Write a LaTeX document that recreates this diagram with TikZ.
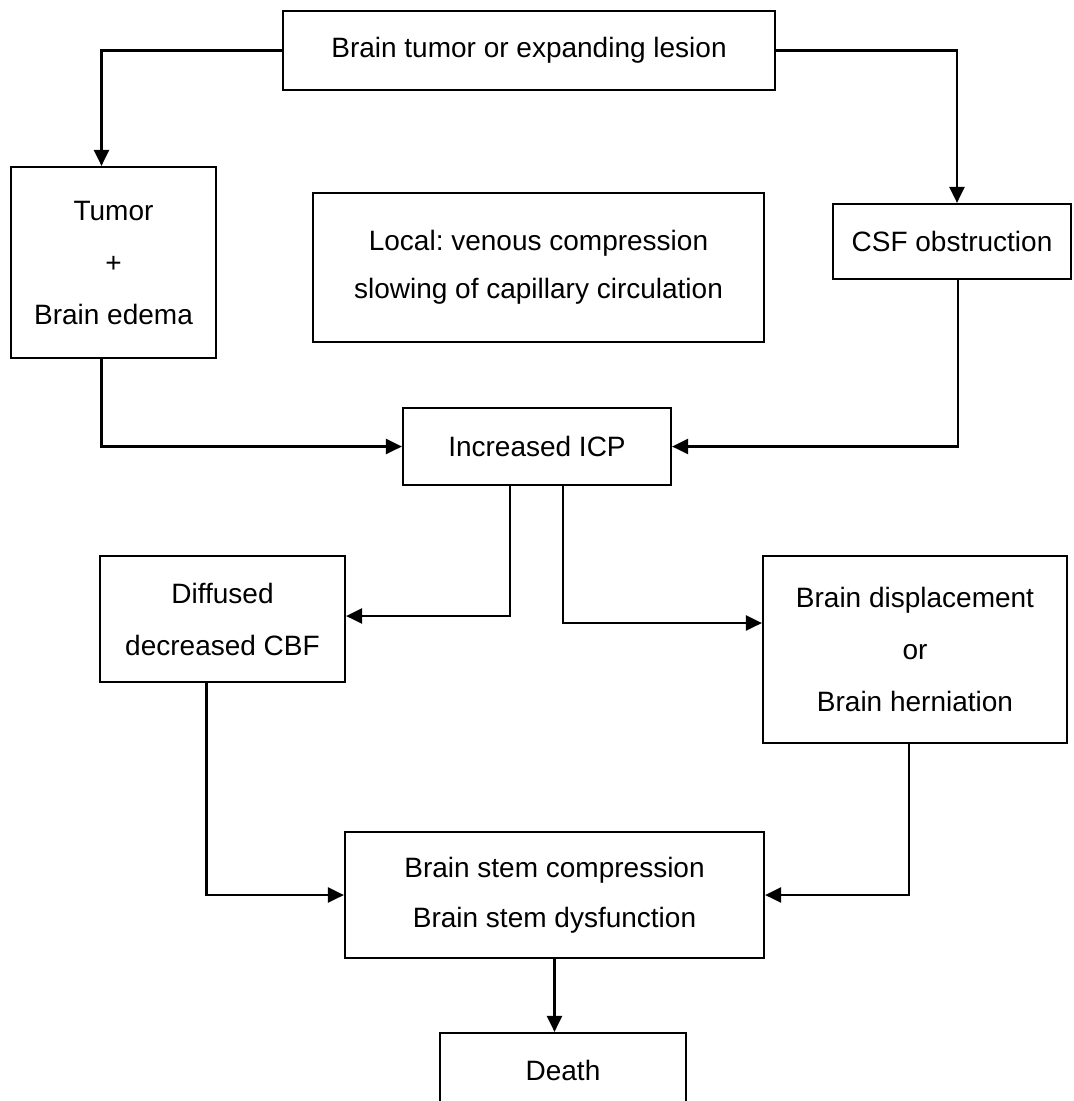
\documentclass[tikz,border=0pt]{standalone}
\usepackage{fontspec}
\setmainfont{Liberation Sans}
\usetikzlibrary{arrows.meta}
\frenchspacing

\tikzset{
    box/.style={draw, line width=2.2pt, align=center, inner sep=0pt,
        font=\fontsize{28}{52}\selectfont},
    flow/.style={-{Triangle[length=16pt,width=15pt]}, line width=2.4pt}
}

\begin{document}
\begin{tikzpicture}[x=1pt, y=-1pt]
    \useasboundingbox (0,0) rectangle (1074,1101);
    \clip (0,0) rectangle (1074,1101);

    % Boxes, placed at their centres
    \node[box, minimum width=492pt, minimum height=79pt] (lesion) at (529,50.5) {Brain tumor or expanding lesion};
    \node[box, minimum width=205pt, minimum height=191pt] (edema) at (113.5,262.5) {Tumor\\+\\Brain edema};
    \node[box, minimum width=451pt, minimum height=149pt, font=\fontsize{28}{48}\selectfont] (local) at (538.5,267.5) {Local: venous compression\\slowing of capillary circulation};
    \node[box, minimum width=238pt, minimum height=75pt] (csf) at (952,241.5) {CSF obstruction};
    \node[box, minimum width=268pt, minimum height=77pt] (icp) at (537,446.5) {Increased ICP};
    \node[box, minimum width=245pt, minimum height=126pt] (cbf) at (222.5,619) {Diffused\\decreased CBF};
    \node[box, minimum width=304pt, minimum height=187pt] (herniation) at (915,649.5) {Brain displacement\\or\\Brain herniation};
    \node[box, minimum width=419pt, minimum height=126pt, font=\fontsize{28}{50}\selectfont] (stem) at (554.5,895) {Brain stem compression\\Brain stem dysfunction};
    \node[box, minimum width=246pt, minimum height=74pt] (death) at (563,1070) {Death};

    % Connectors
    \draw[flow] (lesion.west) -| ([xshift=-12pt]edema.north);
    \draw[flow] (lesion.east) -| ([xshift=5pt]csf.north);
    \draw[flow] ([xshift=-12pt]edema.south) |- (icp.west);
    \draw[flow] ([xshift=6pt]csf.south) |- (icp.east);
    \draw[flow] ([xshift=-27pt]icp.south) |- ([yshift=3pt]cbf.east);
    \draw[flow] ([xshift=26pt]icp.south) |- ([yshift=26.5pt]herniation.west);
    \draw[flow] ([xshift=-16pt]cbf.south) |- (stem.west);
    \draw[flow] ([xshift=-6pt]herniation.south) |- (stem.east);
    \draw[flow] (stem.south) -- (stem.south |- death.north);

\end{tikzpicture}
\end{document}
